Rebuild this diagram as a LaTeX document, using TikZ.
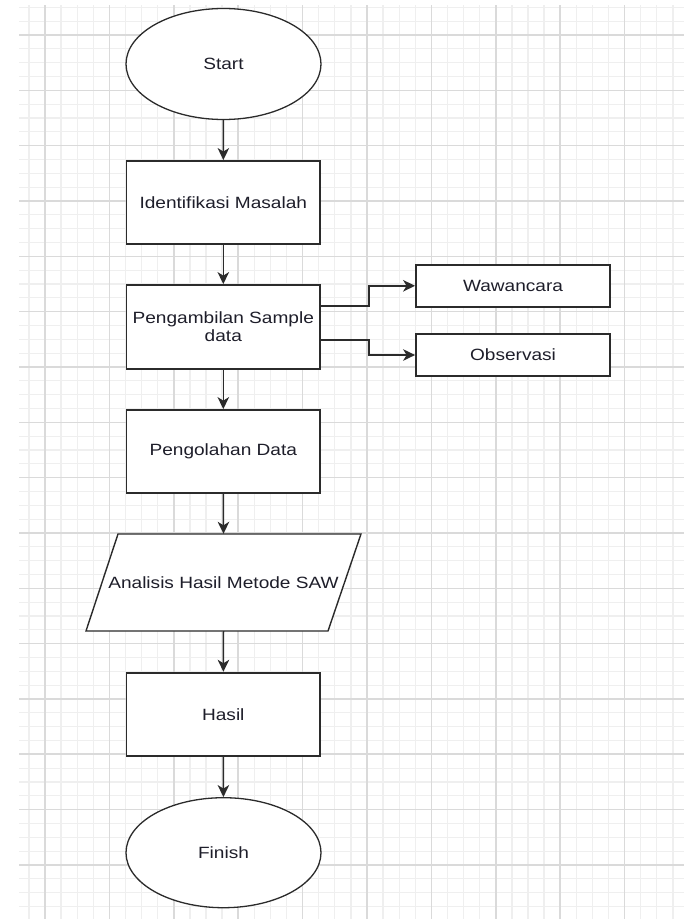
\documentclass[tikz,border=0pt]{standalone}
\usepackage{fontspec}
\usepackage{graphicx}
\setmainfont{Liberation Sans}
\usetikzlibrary{shapes.geometric,arrows.meta,calc}
\definecolor{minorgrid}{HTML}{EFEFEF}
\definecolor{majorgrid}{HTML}{DADADA}
\definecolor{ink}{HTML}{2B2B2B}
\definecolor{txt}{HTML}{1E1E2A}
\newcommand{\wtxt}[1]{\scalebox{1.17}[1]{#1}}
\tikzset{
  procbox/.style={draw=ink, line width=1.8pt, fill=white, rectangle,
    minimum width=193.5pt, inner sep=0pt, text=txt,
    font=\fontsize{16.3}{19}\selectfont, align=center},
  sidebox/.style={procbox, minimum width=194pt, minimum height=42pt},
  termin/.style={draw=ink, line width=1.3pt, fill=white, ellipse,
    minimum width=195pt, minimum height=111pt, inner sep=0pt, text=txt,
    font=\fontsize{16.3}{19}\selectfont},
  arr/.style={draw=ink, line width=1.5pt, -{Stealth[length=12pt,width=11.5pt,inset=3.5pt]}},
}
\begin{document}
\begin{tikzpicture}[x=1pt,y=-1pt]
\useasboundingbox (0,0) rectangle (684,919);
\fill[white] (0,0) rectangle (684,919);
% grid
\begin{scope}
\clip (19,5) rectangle (684,919);
\foreach \i in {0,...,41} \draw[minorgrid, line width=1.3pt] ({28.9+16.1*\i},5) -- ({28.9+16.1*\i},919);
\foreach \j in {0,...,66} \draw[minorgrid, line width=1.3pt] (19,{7.33+13.833*\j}) -- (684,{7.33+13.833*\j});
\foreach \i in {0,...,10} \draw[majorgrid, line width=1.6pt] ({45+64.4*\i},5) -- ({45+64.4*\i},919);
\foreach \j in {0,...,16} \draw[majorgrid, line width=1.6pt] (19,{35+55.33*\j}) -- (684,{35+55.33*\j});
\end{scope}

% nodes
\node[termin] (start) at (223.5,64) {\wtxt{Start}};
\node[procbox, minimum height=82.7pt] (ident) at (223.3,202.3) {\wtxt{Identifikasi Masalah}};
\node[procbox, minimum height=84pt] (peng) at (223.3,327) {\wtxt{Pengambilan Sample}\\[-1pt]\wtxt{data}};
\node[sidebox] (waw) at (513,285.8) {\wtxt{Wawancara}};
\node[sidebox] (obs) at (513,355) {\wtxt{Observasi}};
\node[procbox, minimum height=83pt] (olah) at (223.3,451.5) {\wtxt{Pengolahan Data}};
% parallelogram
\node[inner sep=0pt, minimum width=243pt, minimum height=97pt, text=txt,
  font=\fontsize{16.3}{19}\selectfont] (ana) at (223.5,582.5) {};
\draw[ink, line width=1.4pt, fill=white] (118,534) -- (361,534) -- (328,631) -- (86,631) -- cycle;
\node[text=txt, font=\fontsize{16.3}{19}\selectfont, inner sep=0pt] (anatext) at (ana.center) {\wtxt{Analisis Hasil Metode SAW}};
\node[procbox, minimum height=83.3pt] (hasil) at (223.3,714.3) {\wtxt{Hasil}};
\node[termin, minimum height=110pt] (fin) at (223.5,852.7) {\wtxt{Finish}};

% connectors
\draw[arr] (start) -- (ident);
\draw[arr] (ident) -- (peng);
\draw[arr] (peng) -- (olah);
\draw[arr] (olah) -- (ana.north);
\draw[arr] (ana.south) -- (hasil);
\draw[arr] (hasil) -- (fin);
\draw[arr] ([yshift=21pt]peng.east) -- ++(48,0) |- (waw.west);
\draw[arr] ([yshift=-13pt]peng.east) -- ++(48,0) |- (obs.west);
\end{tikzpicture}
\end{document}
